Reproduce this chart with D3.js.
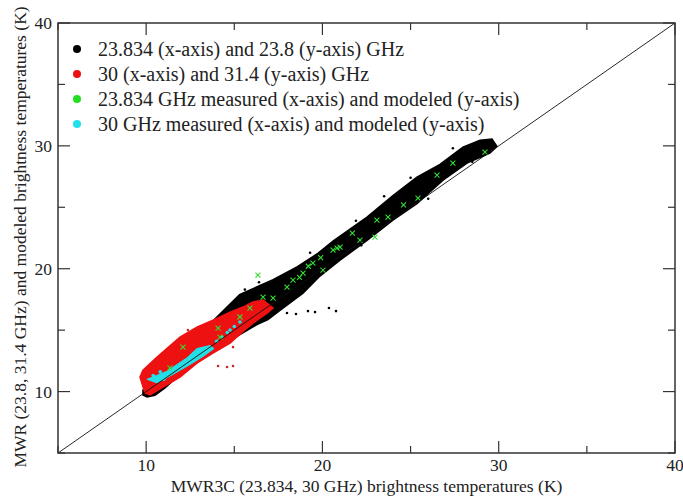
<!DOCTYPE html>
<html>
<head>
<meta charset="utf-8">
<script src="https://cdn.jsdelivr.net/npm/d3@7/dist/d3.min.js"></script>
<style>
  body { margin: 0; background: #fff; }
  svg text { font-family: "Liberation Serif", "DejaVu Serif", serif; fill: #222; }
</style>
</head>
<body>
<div class="visual"></div>
<script>
// outline of the dense 23.8 GHz cloud (x, y in K)
const blackCloud = [
    [9.82, 10.13], [15.3, 17.9], [17.2, 19.1], [18.56, 20.15], [19.69, 21.2],
    [20.6, 22.25], [22.53, 24.2], [24.0, 25.95], [25.36, 27.45], [26.67, 28.5],
    [27.97, 29.9], [28.94, 30.45], [29.62, 30.55], [29.9, 29.95], [29.5, 29.4],
    [28.2, 28.6], [26.84, 27.2], [25.36, 25.3], [24.0, 23.95], [22.53, 22.3],
    [21.0, 20.7], [19.86, 19.4], [18.9, 18.0], [17.59, 16.6], [16.91, 15.85],
    [16.29, 15.45], [14.5, 13.95], [12.5, 12.15], [11.07, 10.3], [10.5, 9.7],
    [10.05, 9.56], [9.82, 9.72]
];
// scattered points around the cloud edges
const blackDots = [
    [17.99, 16.39], [18.50, 16.31], [19.18, 16.55], [19.58, 16.47], [20.37, 16.80], [20.77, 16.55],
    [15.6, 18.3], [16.4, 18.9], [19.3, 21.3], [21.9, 23.9], [23.5, 25.9], [25.0, 27.4],
    [27.4, 29.8], [22.2, 21.9], [26.0, 25.7], [28.5, 28.7]
];

// outline of the 31.4 GHz cloud
const redCloud = [
    [9.65, 11.18], [9.82, 11.75], [10.62, 12.81], [11.92, 14.44], [12.88, 15.25],
    [13.79, 15.82], [14.76, 16.47], [15.49, 16.88], [16.06, 17.29], [16.63, 17.45],
    [17.20, 16.80], [16.86, 16.39], [16.29, 15.82], [15.72, 15.17], [14.76, 13.95],
    [13.79, 13.14], [12.88, 12.32], [11.92, 11.18], [10.96, 10.37], [10.22, 9.72],
    [9.93, 9.88]
];
const redDots = [
    [12.37, 15.01], [14.93, 13.62], [14.08, 12.08], [14.59, 12.00], [14.93, 12.08]
];

// 30 GHz measured vs modeled
const cyanCloud = [
    [10.05, 11.0], [11.18, 11.65], [12.32, 12.75], [12.88, 13.5], [13.62, 13.75],
    [13.85, 13.5], [13.22, 12.85], [12.49, 12.2], [11.52, 11.4], [10.62, 10.7]
];
const cyanDots = [
    [14.76, 15.01], [15.32, 15.66], [14.30, 14.44], [10.4, 11.3], [11.0, 11.0],
    [14.0, 14.1], [14.6, 14.8], [15.0, 15.3], [10.8, 11.6], [11.7, 11.9]
];

// 23.834 GHz measured vs modeled (crosses)
const greenCrosses = [
    [16.34, 19.48], [16.63, 17.69], [17.20, 17.61], [17.99, 18.51], [18.33, 19.08],
    [18.90, 19.65], [19.46, 20.46], [20.60, 21.52], [21.00, 21.76], [20.03, 19.89],
    [20.83, 21.68], [22.13, 22.33], [23.09, 23.96], [23.72, 24.20], [22.98, 22.58],
    [25.42, 25.75], [26.50, 27.62], [29.22, 29.49], [19.2, 20.2], [19.9, 20.9],
    [24.6, 25.2], [27.4, 28.6], [21.7, 22.9], [18.7, 19.3],
    [11.35, 11.92], [12.09, 13.62], [14.19, 14.44], [15.32, 16.07], [15.89, 16.80], [14.08, 15.17]
];

const xTicks = [10, 20, 30, 40];
const yTicks = [10, 20, 30, 40];
const minorTicks = [5, 15, 25, 35];

const legendItems = [
    { label: "23.834 (x-axis) and 23.8 (y-axis) GHz", color: "#000000" },
    { label: "30 (x-axis) and 31.4 (y-axis) GHz", color: "#ee1111" },
    { label: "23.834 GHz measured (x-axis) and modeled (y-axis)", color: "#22dd22" },
    { label: "30 GHz measured (x-axis) and modeled (y-axis)", color: "#22e0e8" }
];

function display() {
    const width = 683, height = 497;
    const left = 58, right = 675, top = 23, bottom = 453;

    const svg = d3.select(".visual")
        .append("svg")
        .attr("width", width)
        .attr("height", height);

    const x = d3.scaleLinear().domain([5, 40]).range([left, right]);
    const y = d3.scaleLinear().domain([5, 40]).range([bottom, top]);

    const area = d3.line()
        .x(d => x(d[0]))
        .y(d => y(d[1]))
        .curve(d3.curveLinearClosed);

    // black cloud
    svg.append("path")
        .attr("d", area(blackCloud))
        .attr("fill", "#000")
        .attr("stroke", "#000")
        .attr("stroke-width", 1.5);

    svg.selectAll(".bdot")
        .data(blackDots)
        .enter()
        .append("circle")
        .attr("cx", d => x(d[0]))
        .attr("cy", d => y(d[1]))
        .attr("r", 1.3)
        .attr("fill", "#000");

    // red cloud
    svg.append("path")
        .attr("d", area(redCloud))
        .attr("fill", "#ee1111")
        .attr("stroke", "#ee1111")
        .attr("stroke-width", 1.5);

    svg.selectAll(".rdot")
        .data(redDots)
        .enter()
        .append("circle")
        .attr("cx", d => x(d[0]))
        .attr("cy", d => y(d[1]))
        .attr("r", 1.3)
        .attr("fill", "#cc2222");

    // cyan cloud
    svg.append("path")
        .attr("d", area(cyanCloud))
        .attr("fill", "#22e0e8")
        .attr("stroke", "#22e0e8")
        .attr("stroke-width", 1);

    svg.selectAll(".cdot")
        .data(cyanDots)
        .enter()
        .append("circle")
        .attr("cx", d => x(d[0]))
        .attr("cy", d => y(d[1]))
        .attr("r", 1.8)
        .attr("fill", "#22e0e8");

    // green crosses
    svg.selectAll(".gx")
        .data(greenCrosses)
        .enter()
        .append("path")
        .attr("d", d => {
            const cx = x(d[0]), cy = y(d[1]), s = 2.5;
            return `M${cx - s},${cy - s}L${cx + s},${cy + s}M${cx - s},${cy + s}L${cx + s},${cy - s}`;
        })
        .attr("stroke", "#33dd33")
        .attr("stroke-width", 1.1);

    // 1:1 line
    svg.append("line")
        .attr("x1", x(5)).attr("y1", y(5))
        .attr("x2", x(40)).attr("y2", y(40))
        .attr("stroke", "#111")
        .attr("stroke-width", 0.9);

    // frame
    svg.append("rect")
        .attr("x", left).attr("y", top)
        .attr("width", right - left).attr("height", bottom - top)
        .attr("fill", "none")
        .attr("stroke", "#333")
        .attr("stroke-width", 1.5);

    // ticks pointing inward on all four sides
    const ticks = svg.append("g").attr("stroke", "#333").attr("stroke-width", 1.2);
    xTicks.concat(minorTicks).forEach(v => {
        const len = xTicks.includes(v) ? 12 : 7;
        ticks.append("line").attr("x1", x(v)).attr("x2", x(v)).attr("y1", bottom).attr("y2", bottom - len);
        ticks.append("line").attr("x1", x(v)).attr("x2", x(v)).attr("y1", top).attr("y2", top + len);
    });
    yTicks.concat(minorTicks).forEach(v => {
        const len = yTicks.includes(v) ? 12 : 7;
        ticks.append("line").attr("y1", y(v)).attr("y2", y(v)).attr("x1", left).attr("x2", left + len);
        ticks.append("line").attr("y1", y(v)).attr("y2", y(v)).attr("x1", right).attr("x2", right - len);
    });

    svg.selectAll(".xl")
        .data(xTicks)
        .enter()
        .append("text")
        .attr("x", d => x(d))
        .attr("y", bottom + 18)
        .attr("text-anchor", "middle")
        .style("font-size", "17.5px")
        .text(d => d);

    svg.selectAll(".yl")
        .data(yTicks)
        .enter()
        .append("text")
        .attr("x", left - 6)
        .attr("y", d => y(d) + 6)
        .attr("text-anchor", "end")
        .style("font-size", "17.5px")
        .text(d => d);

    svg.append("text")
        .attr("x", (left + right) / 2)
        .attr("y", 492)
        .attr("text-anchor", "middle")
        .style("font-size", "17.5px")
        .text("MWR3C (23.834, 30 GHz) brightness temperatures (K)");

    svg.append("text")
        .attr("transform", "translate(26, 237) rotate(-90)")
        .attr("text-anchor", "middle")
        .style("font-size", "17.5px")
        .text("MWR (23.8, 31.4 GHz) and modeled brightness temperatures (K)");

    // legend
    const legend = svg.selectAll(".leg")
        .data(legendItems)
        .enter()
        .append("g")
        .attr("transform", (d, i) => `translate(77, ${49 + i * 25})`);

    legend.append("circle")
        .attr("r", 4)
        .attr("fill", d => d.color);

    legend.append("text")
        .attr("x", 21)
        .attr("y", 6.5)
        .style("font-size", "20px")
        .text(d => d.label);
}

window.onload = function() {
    display();
};
</script>
</body>
</html>
